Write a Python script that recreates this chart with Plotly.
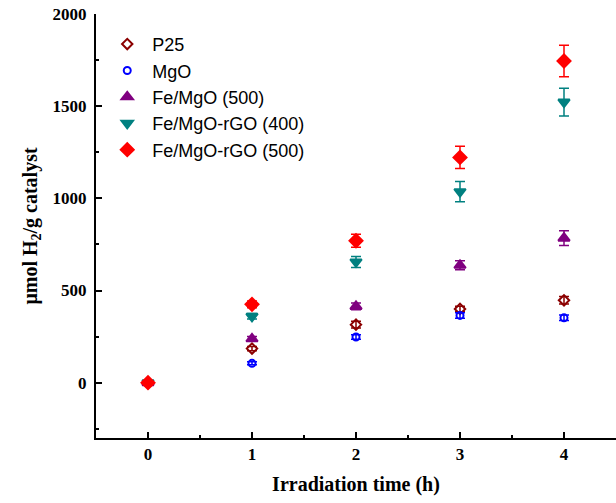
import plotly.graph_objects as go

time_h = [0, 1, 2, 3, 4]

p25 = [0, 185, 315, 400, 447]
p25_err = [0, 12, 18, 15, 20]
mgo = [0, 105, 248, 365, 352]
mgo_err = [0, 8, 12, 15, 15]
fe_mgo = [0, 238, 414, 637, 784]
fe_mgo_err = [0, 12, 18, 25, 40]
rgo400 = [0, 360, 655, 1036, 1522]
rgo400_err = [0, 15, 30, 55, 75]
rgo500 = [0, 425, 770, 1222, 1745]
rgo500_err = [0, 18, 35, 60, 85]

series = [
    ("P25", p25, p25_err, "diamond-open", "#8B0000", 8),
    ("MgO", mgo, mgo_err, "circle-open", "#0000FF", 7),
    ("Fe/MgO (500)", fe_mgo, fe_mgo_err, "triangle-up", "#800080", 10),
    ("Fe/MgO-rGO (400)", rgo400, rgo400_err, "triangle-down", "#008080", 10),
    ("Fe/MgO-rGO (500)", rgo500, rgo500_err, "diamond", "#FF0000", 10),
]

fig = go.Figure()
for name, vals, errs, sym, col, sz in series:
    fig.add_trace(go.Scatter(
        x=time_h, y=vals, name=name, mode="markers",
        marker=dict(symbol=sym, color=col, size=sz, line=dict(color=col, width=2)),
        error_y=dict(type="data", array=errs, visible=True, color=col, thickness=1.5, width=5),
    ))

serif = "Liberation Serif, Times New Roman, serif"

fig.update_layout(
    width=616, height=503,
    margin=dict(l=96, r=0, t=14, b=65),
    plot_bgcolor="white", paper_bgcolor="white",
    showlegend=True,
    legend=dict(x=0.012, y=0.972, xanchor="left", yanchor="top",
                font=dict(family="Liberation Sans, Arial", size=18, color="black"),
                bgcolor="rgba(0,0,0,0)", tracegroupgap=0, itemwidth=40),
    xaxis=dict(
        range=[-0.5, 4.5], tickmode="array", tickvals=[0, 1, 2, 3, 4],
        ticks="inside", ticklen=6, tickwidth=2, tickcolor="black",
        showline=True, linecolor="black", linewidth=2, showgrid=False, zeroline=False,
        minor=dict(ticks="inside", ticklen=3, tickwidth=2, tickcolor="black", dtick=0.5),
        tickfont=dict(family=serif, size=17, color="black", weight="bold"),
        title=dict(text="Irradiation time (h)", standoff=14,
                   font=dict(family=serif, size=20, color="black", weight="bold")),
    ),
    yaxis=dict(
        range=[-300, 2000], tickmode="array", tickvals=[0, 500, 1000, 1500, 2000],
        ticks="inside", ticklen=6, tickwidth=2, tickcolor="black",
        showline=True, linecolor="black", linewidth=2, showgrid=False, zeroline=False,
        ticklabelstandoff=4,
        minor=dict(ticks="inside", ticklen=3, tickwidth=2, tickcolor="black", dtick=250),
        tickfont=dict(family=serif, size=17, color="black", weight="bold"),
        title=dict(text="μmol H<sub>2</sub>/g catalyst", standoff=10,
                   font=dict(family=serif, size=20, color="black", weight="bold")),
    ),
)

fig.write_html("out.html", config={"displayModeBar": False},
               post_script="document.body.style.margin='0';")
